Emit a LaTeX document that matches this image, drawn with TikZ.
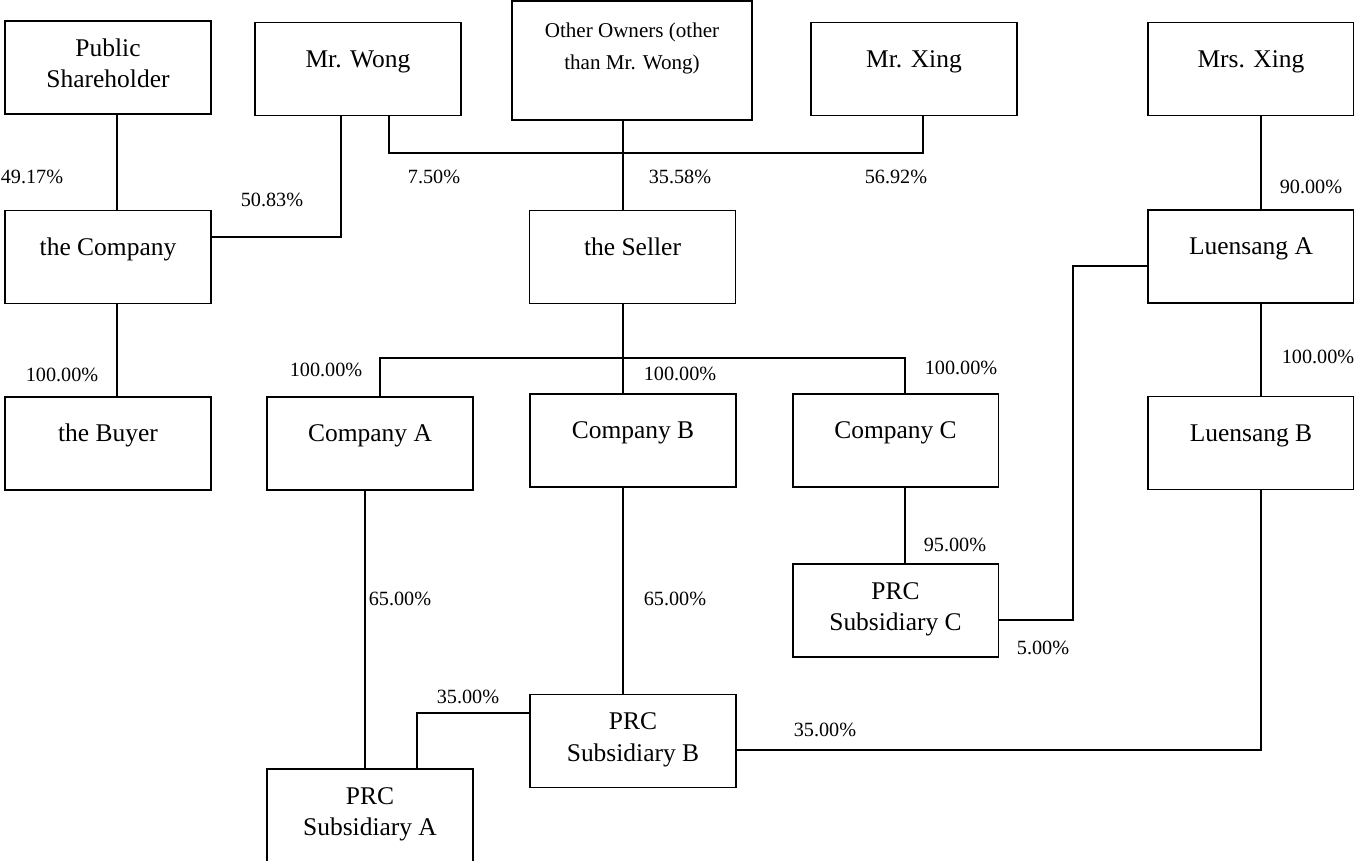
\documentclass[tikz,border=0pt]{standalone}
\usepackage{fontspec}
\setmainfont{Liberation Serif}
\usetikzlibrary{calc}
\tikzset{
  entity/.style={draw, inner sep=0pt, font=\fontsize{14.5}{18}\selectfont},
  share/.style={inner sep=0pt, font=\fontsize{11.5}{13}\selectfont}
}
\newcommand{\boxtext}[2][25.5pt]{\parbox[c][1.86cm][t]{4.12cm}{\centering\rule{0pt}{#1}#2}}
\begin{document}
\begin{tikzpicture}[x=0.02cm, y=-0.02cm, line width=1.1pt]
\useasboundingbox (0,0) rectangle (1354,861);
% owners
\node[entity] (pub) at (108,67.5) {\boxtext[20pt]{Public\\Shareholder}};
\node[entity] (wong) at (358,69) {\boxtext{Mr. Wong}};
\node[entity] (other) at (632,60.5) {\parbox[c][2.38cm][t]{4.8cm}{\centering\fontsize{12}{18}\selectfont\rule{0pt}{21pt}Other Owners (other\\than Mr. Wong)}};
\node[entity] (mrxing) at (914,69) {\boxtext{Mr. Xing}};
\node[entity] (mrsxing) at (1251,69) {\boxtext{Mrs. Xing}};
% holding level
\node[entity] (company) at (108,257) {\boxtext{the Company}};
\node[entity] (seller) at (632.5,257) {\boxtext{the Seller}};
\node[entity] (luenA) at (1251,256.5) {\boxtext{Luensang A}};
\node[entity] (buyer) at (108,443.5) {\boxtext{the Buyer}};
\node[entity] (compA) at (370,443.5) {\boxtext{Company A}};
\node[entity] (compB) at (633,440.5) {\boxtext{Company B}};
\node[entity] (compC) at (895.5,440.5) {\boxtext{Company C}};
\node[entity] (luenB) at (1251,443) {\boxtext{Luensang B}};
% PRC level
\node[entity] (prcC) at (895.5,610.5) {\boxtext[20pt]{PRC\\Subsidiary C}};
\node[entity] (prcB) at (633,741) {\boxtext[20pt]{PRC\\Subsidiary B}};
\node[entity] (prcA) at (370,815.5) {\boxtext[20pt]{PRC\\Subsidiary A}};
% shareholdings
\node[share] (s4917) at (32,177) {49.17\%};
\node[share] (s5083) at (272,200) {50.83\%};
\node[share] (s750) at (434,177) {7.50\%};
\node[share] (s3558) at (680,177) {35.58\%};
\node[share] (s5692) at (896,177) {56.92\%};
\node[share] (s90) at (1311,187) {90.00\%};
\node[share] (sbuyer) at (62,375) {100.00\%};
\node[share] (scompA) at (326,370) {100.00\%};
\node[share] (scompB) at (680,374) {100.00\%};
\node[share] (scompC) at (961,368) {100.00\%};
\node[share] (sluenB) at (1318,357) {100.00\%};
\node[share] (s65A) at (400,599) {65.00\%};
\node[share] (s65B) at (675,599) {65.00\%};
\node[share] (s95) at (955,545) {95.00\%};
\node[share] (s5) at (1043,648) {5.00\%};
\node[share] (s35A) at (468,697) {35.00\%};
\node[share] (s35B) at (825,730) {35.00\%};
% links
\draw ($(pub.south)+(9,0)$) coordinate (p1) -- (p1 |- company.north);
\draw ($(wong.south)+(-17,0)$) |- ($(company.east)+(0,-20)$);
\draw ($(wong.south)+(31,0)$) |- ($(mrxing.south)+(9,37)$) -- ($(mrxing.south)+(9,0)$);
\draw ($(other.south)+(-9,0)$) coordinate (o1) -- (o1 |- seller.north);
\draw ($(company.south)+(9,0)$) coordinate (c1) -- (c1 |- buyer.north);
\draw ($(seller.south)+(-9.5,0)$) coordinate (s1) -- (s1 |- compB.north);
\draw ($(compA.north)+(10,0)$) -- ++(0,-38) -| ($(compC.north)+(9.5,0)$);
\draw ($(compA.south)+(-5,0)$) coordinate (a1) -- (a1 |- prcA.north);
\draw ($(compB.south)+(-10,0)$) coordinate (b1) -- (b1 |- prcB.north);
\draw ($(compC.south)+(9.5,0)$) coordinate (k1) -- (k1 |- prcC.north);
\draw ($(prcB.west)+(0,-28)$) -| ($(prcA.north)+(47,0)$);
\draw ($(mrsxing.south)+(10,0)$) coordinate (m1) -- (m1 |- luenA.north);
\draw ($(luenA.south)+(10,0)$) coordinate (l1) -- (l1 |- luenB.north);
\draw ($(luenB.south)+(10,0)$) |- ($(prcB.east)+(0,9)$);
\draw ($(luenA.west)+(0,9.5)$) -| ($(prcC.east)+(74,9.5)$) -- ($(prcC.east)+(0,9.5)$);
\end{tikzpicture}
\end{document}
